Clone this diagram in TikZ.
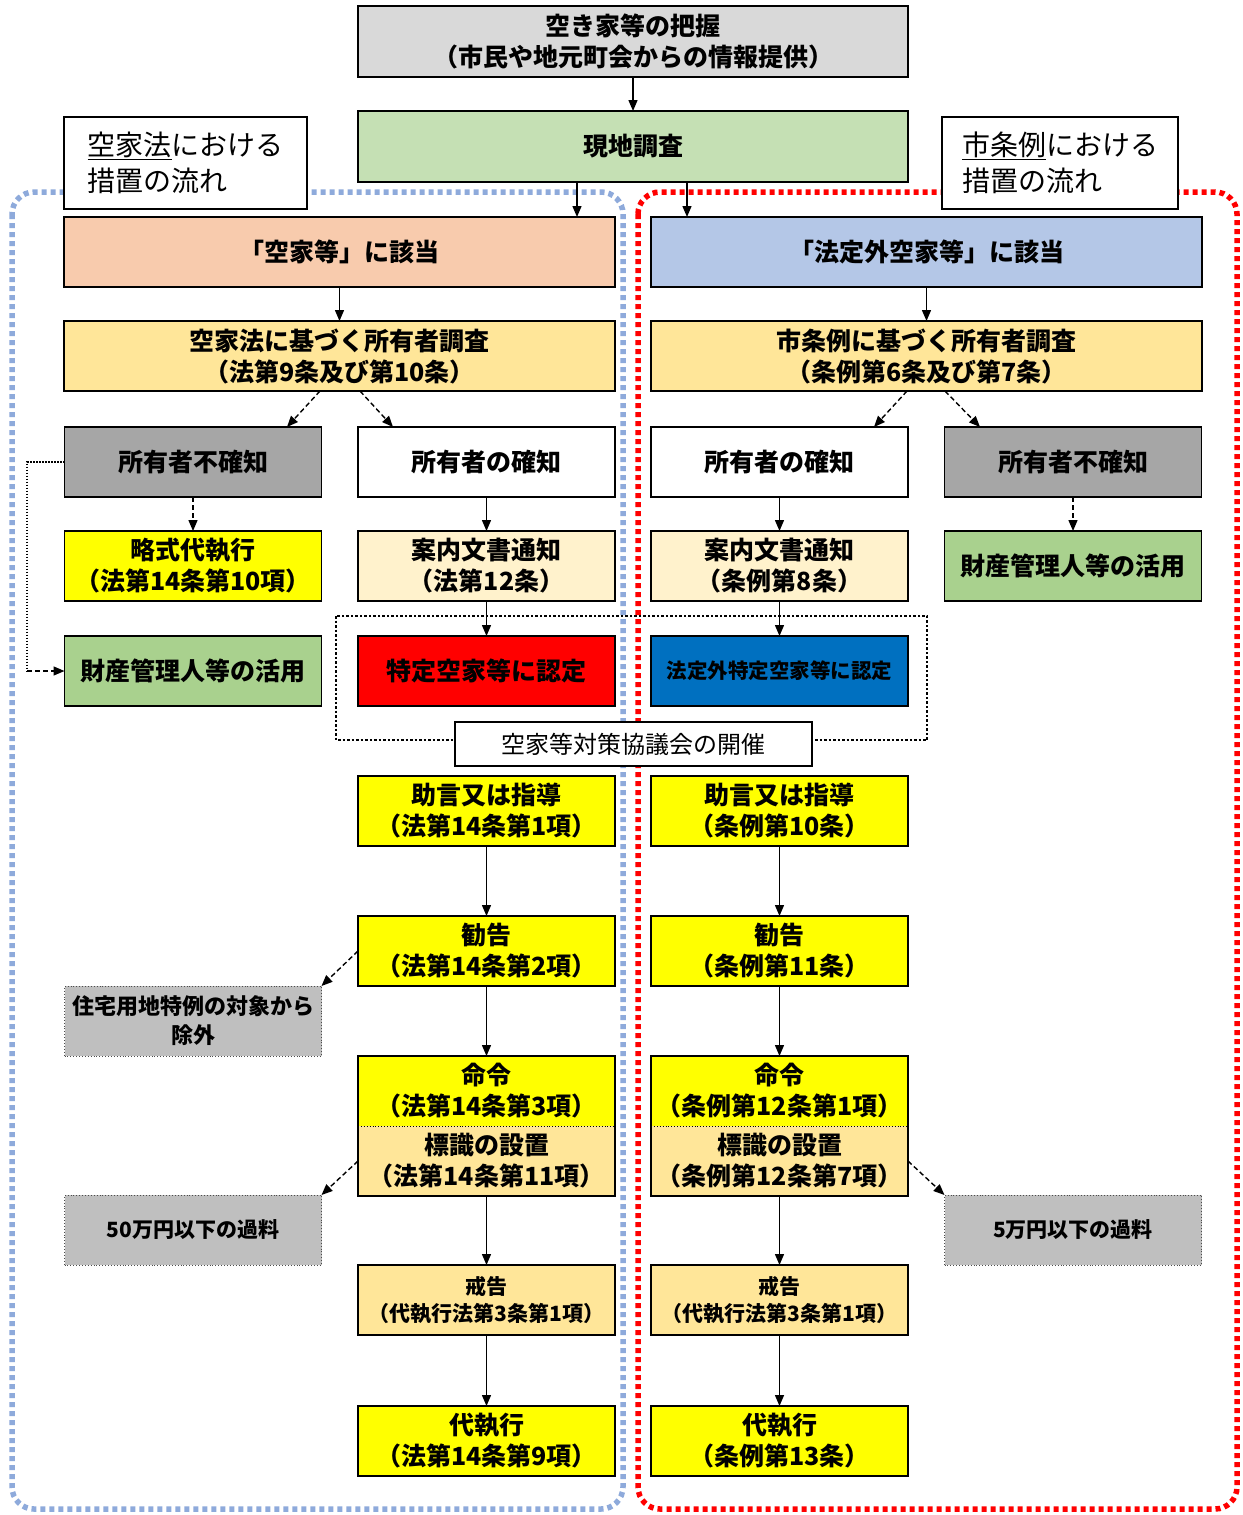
\documentclass[tikz,border=0pt]{standalone}
\usepackage{fontspec}
\setmainfont{Noto Sans CJK JP}
\usetikzlibrary{arrows.meta,calc}
\definecolor{cTop}{HTML}{D9D9D9}
\definecolor{cGen}{HTML}{C5E0B4}
\definecolor{cPeach}{HTML}{F8CBAD}
\definecolor{cBlueL}{HTML}{B4C7E7}
\definecolor{cGold}{HTML}{FFE699}
\definecolor{cGrayD}{HTML}{A6A6A6}
\definecolor{cYel}{HTML}{FFFF00}
\definecolor{cCream}{HTML}{FFF2CC}
\definecolor{cGreen}{HTML}{A9D18E}
\definecolor{cRed}{HTML}{FF0000}
\definecolor{cBlue}{HTML}{0070C0}
\definecolor{cGrayS}{HTML}{BFBFBF}
\definecolor{cBlueDot}{HTML}{8EAADB}
\begin{document}
\begin{tikzpicture}[x=1pt,y=-1pt,
  bx/.style={draw=black,line width=1.6pt,inner sep=0pt,outer sep=0pt,align=center,
    font=\fontsize{25}{31}\selectfont\bfseries,text=black},
  wide/.style={bx,minimum width=551pt,minimum height=70pt},
  half/.style={bx,minimum width=257pt,minimum height=70pt},
  lab/.style={draw=black,line width=1.2pt,fill=white,inner sep=0pt,outer sep=0pt,align=left,
    minimum height=92pt,font=\fontsize{28}{36}\selectfont},
  side/.style={draw=black!70,line width=0.9pt,dotted,fill=cGrayS,inner sep=0pt,outer sep=0pt,
    align=center,minimum width=257pt,minimum height=70pt,text=black},
  arr/.style={draw=black,line width=1.4pt,-{Triangle[length=11pt,width=9pt]}},
  darr/.style={arr,dash pattern=on 5pt off 3pt},
  bluedot/.style={draw=cBlueDot,line width=5.5pt,dash pattern=on 5pt off 4pt,rounded corners=22pt},
  reddot/.style={draw=cRed,line width=5.5pt,dash pattern=on 5pt off 4pt,rounded corners=22pt},
  blkdot/.style={draw=black,line width=2.5pt,dash pattern=on 2.5pt off 2pt}
]
\useasboundingbox (0,0) rectangle (1242,1515);
\fill[white] (0,0) rectangle (1242,1515);

% enclosing dotted frames
\draw[bluedot] (12,192) rectangle (623,1509);
\draw[reddot] (638,192) rectangle (1237,1509);
\draw[blkdot] (336,616) rectangle (927,740);

% label boxes
\node[lab,minimum width=243pt] (lab1) at (185.5,163) {\underline{空家法}における\\措置の流れ};
\node[lab,minimum width=236pt] (lab2) at (1060,163) {\underline{市条例}における\\措置の流れ};

% top
\node[bx,fill=cTop,minimum width=550pt,minimum height=71pt] (top) at (633,41.5)
  {空き家等の把握\\（市民や地元町会からの情報提供）};
\node[bx,fill=cGen,minimum width=550pt,minimum height=71pt] (gen) at (633,146.5) {現地調査};

% row: gaito
\node[wide,fill=cPeach] (gai1) at (339.5,252) {「空家等」に該当};
\node[wide,fill=cBlueL] (gai2) at (926.5,252) {「法定外空家等」に該当};

% row: owner survey
\node[wide,fill=cGold] (own1) at (339.5,356) {空家法に基づく所有者調査\\（法第9条及び第10条）};
\node[wide,fill=cGold] (own2) at (926.5,356) {市条例に基づく所有者調査\\（条例第6条及び第7条）};

% row 3
\node[half,fill=cGrayD] (fu1) at (193,462) {所有者不確知};
\node[half,fill=white] (ka1) at (486.5,462) {所有者の確知};
\node[half,fill=white] (ka2) at (779.5,462) {所有者の確知};
\node[half,fill=cGrayD] (fu2) at (1073,462) {所有者不確知};

% row 4
\node[half,fill=cYel] (ryaku) at (193,566) {略式代執行\\（法第14条第10項）};
\node[half,fill=cCream] (an1) at (486.5,566) {案内文書通知\\（法第12条）};
\node[half,fill=cCream] (an2) at (779.5,566) {案内文書通知\\（条例第8条）};
\node[half,fill=cGreen] (zai2) at (1073,566) {財産管理人等の活用};

% row 5
\node[half,fill=cGreen] (zai1) at (193,671) {財産管理人等の活用};
\node[half,fill=cRed] (tok1) at (486.5,671) {特定空家等に認定};
\node[half,fill=cBlue,font=\fontsize{20.5}{26}\selectfont\bfseries] (tok2) at (779.5,671) {法定外特定空家等に認定};

% council
\node[draw=black,line width=1.2pt,fill=white,inner sep=0pt,outer sep=0pt,minimum width=357pt,
  minimum height=44pt,font=\fontsize{24}{30}\selectfont] (kyo) at (633.5,744) {空家等対策協議会の開催};

% advice
\node[half,fill=cYel] (jog1) at (486.5,811) {助言又は指導\\（法第14条第1項）};
\node[half,fill=cYel] (jog2) at (779.5,811) {助言又は指導\\（条例第10条）};

% recommendation
\node[half,fill=cYel] (kan1) at (486.5,951) {勧告\\（法第14条第2項）};
\node[half,fill=cYel] (kan2) at (779.5,951) {勧告\\（条例第11条）};

% order + sign
\node[half,draw=none,fill=cYel] (mei1) at (486.5,1091) {命令\\（法第14条第3項）};
\node[half,draw=none,fill=cGold] (hyo1) at (486.5,1161) {標識の設置\\（法第14条第11項）};
\node[half,draw=none,fill=cYel] (mei2) at (779.5,1091) {命令\\（条例第12条第1項）};
\node[half,draw=none,fill=cGold] (hyo2) at (779.5,1161) {標識の設置\\（条例第12条第7項）};
\draw[line width=1.6pt] (mei1.north west) rectangle (hyo1.south east);
\draw[line width=1.6pt] (mei2.north west) rectangle (hyo2.south east);
\draw[black,line width=0.9pt,dotted] (mei1.south west) -- (mei1.south east);
\draw[black,line width=0.9pt,dotted] (mei2.south west) -- (mei2.south east);

% warning
\node[half,fill=cGold,font=\fontsize{21}{27}\selectfont\bfseries] (kai1) at (486.5,1300) {戒告\\（代執行法第3条第1項）};
\node[half,fill=cGold,font=\fontsize{21}{27}\selectfont\bfseries] (kai2) at (779.5,1300) {戒告\\（代執行法第3条第1項）};

% execution
\node[half,fill=cYel] (dai1) at (486.5,1441) {代執行\\（法第14条第9項）};
\node[half,fill=cYel] (dai2) at (779.5,1441) {代執行\\（条例第13条）};

% side gray boxes
\node[side,font=\fontsize{22}{29}\selectfont\bfseries] (jut) at (193,1021) {住宅用地特例の対象から\\除外};
\node[side,font=\fontsize{21}{27}\selectfont\bfseries] (kaz1) at (193,1230) {50万円以下の過料};
\node[side,font=\fontsize{21}{27}\selectfont\bfseries] (kaz2) at (1073,1230) {5万円以下の過料};

% connectors
\coordinate (cx1) at (577,0);
\coordinate (cx2) at (687,0);
\coordinate (lx) at (27,0);
\draw[arr] (top) -- (gen);
\draw[arr] (gen.south -| cx1) -- (gai1.north -| cx1);
\draw[arr] (gen.south -| cx2) -- (gai2.north -| cx2);
\draw[arr] (gai1) -- (own1);
\draw[arr] (gai2) -- (own2);
\draw[darr] ([xshift=-19.5pt]own1.south) -- ([xshift=94pt]fu1.north);
\draw[darr] ([xshift=20.5pt]own1.south) -- ([xshift=-93.5pt]ka1.north);
\draw[darr] ([xshift=-19.5pt]own2.south) -- ([xshift=94.5pt]ka2.north);
\draw[darr] ([xshift=18.5pt]own2.south) -- ([xshift=-93pt]fu2.north);
\draw[darr] (fu1) -- (ryaku);
\draw[arr] (ka1) -- (an1);
\draw[arr] (ka2) -- (an2);
\draw[darr] (fu2) -- (zai2);
\draw[arr] (an1) -- (tok1);
\draw[arr] (an2) -- (tok2);
\draw[black,line width=1.3pt,dash pattern=on 1.5pt off 1.5pt] (fu1.west) -- (fu1.west -| lx) -- (zai1.west -| lx);
\draw[darr] (zai1.west -| lx) -- (zai1.west);
\draw[arr] (jog1) -- (kan1);
\draw[arr] (jog2) -- (kan2);
\draw[arr] (kan1) -- (mei1);
\draw[arr] (kan2) -- (mei2);
\draw[arr] (hyo1.south) -- (kai1.north);
\draw[arr] (hyo2.south) -- (kai2.north);
\draw[arr] (kai1) -- (dai1);
\draw[arr] (kai2) -- (dai2);
\draw[darr] (kan1.west) -- (jut.north east);
\draw[darr] (hyo1.west) -- (kaz1.north east);
\draw[darr] (hyo2.east) -- (kaz2.north west);
\end{tikzpicture}
\end{document}
